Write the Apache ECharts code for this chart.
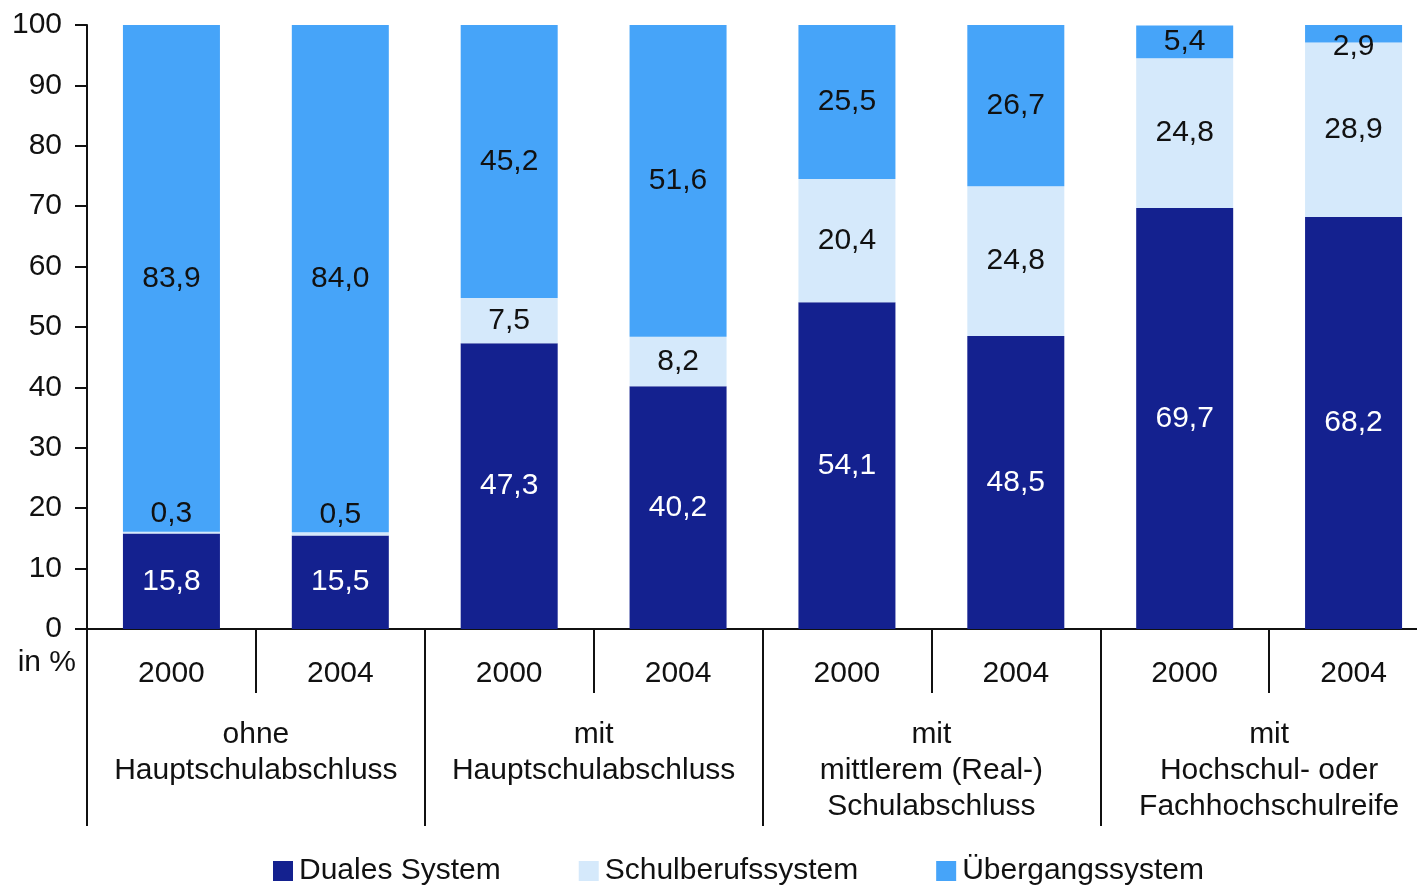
<!DOCTYPE html>
<html>
<head>
<meta charset="utf-8">
<script src="https://cdn.jsdelivr.net/npm/echarts@6/dist/echarts.min.js"></script>
<style>
  html, body { margin: 0; padding: 0; background: #fff; }
  #chart { width: 1417px; height: 886px; }
</style>
</head>
<body>
<div id="chart"></div>
<script>
const years = ['2000', '2004', '2000', '2004', '2000', '2004', '2000', '2004']
const groups = [
    'ohne\nHauptschulabschluss',
    'mit\nHauptschulabschluss',
    'mit\nmittlerem (Real-)\nSchulabschluss',
    'mit\nHochschul- oder\nFachhochschulreife'
]
const dualesSystem = [15.8, 15.5, 47.3, 40.2, 54.1, 48.5, 69.7, 68.2]
const schulberufssystem = [0.3, 0.5, 7.5, 8.2, 20.4, 24.8, 24.8, 28.9]
const uebergangssystem = [83.9, 84.0, 45.2, 51.6, 25.5, 26.7, 5.4, 2.9]
const yTicks = [0, 100, 10]  // min, max, step

const font = '"Liberation Sans", Arial, Helvetica, sans-serif'
const fmt = v => v.toFixed(1).replace('.', ',')

const chart = echarts.init(document.getElementById('chart'))

// kleine Segmente: Beschriftung über dem Balken
const schulData = schulberufssystem.map(v => v < 1
    ? { value: v, label: { position: 'top', distance: 3 } }
    : v)
const uebData = uebergangssystem.map(v => v < 4
    ? { value: v, label: { offset: [0, 13] } }
    : v)

const barLabel = color => ({
    show: true,
    position: 'inside',
    color: color,
    fontFamily: font,
    fontSize: 30,
    formatter: p => fmt(p.value)
})

chart.setOption({
    animation: false,
    textStyle: { fontFamily: font },
    grid: {
        left: 87,
        top: 25,
        bottom: 257,
        width: 1351,
        outerBoundsMode: 'none',
        containLabel: false,
    },
    legend: {
        left: 268,
        top: 851,
        icon: 'rect',
        itemWidth: 20,
        itemHeight: 20,
        itemGap: 78,
        selectedMode: false,
        textStyle: {
            fontFamily: font,
            fontSize: 30,
            color: '#111',
            padding: [0, 0, 0, 1]
        },
        data: ['Duales System', 'Schulberufssystem', 'Übergangssystem']
    },
    graphic: [{
        type: 'text',
        right: 1417 - 76,
        top: 648,
        style: {
            text: 'in %',
            font: '30px ' + font,
            fill: '#111',
            textAlign: 'right'
        }
    }],
    xAxis: [
        {
            type: 'category',
            data: years,
            position: 'bottom',
            axisLine: { show: true, lineStyle: { color: '#111', width: 2 } },
            axisTick: { show: true, length: 64, lineStyle: { color: '#111', width: 2 } },
            axisLabel: {
                margin: 27,
                fontSize: 30,
                lineHeight: 36,
                color: '#111',
                fontFamily: font
            },
        },
        {
            type: 'category',
            data: groups,
            position: 'bottom',
            axisLine: { show: false },
            axisTick: { show: true, length: 197, lineStyle: { color: '#111', width: 2 } },
            axisLabel: {
                margin: 88,
                fontSize: 30,
                lineHeight: 36,
                color: '#111',
                fontFamily: font,
                interval: 0
            },
        }
    ],
    yAxis: {
        type: 'value',
        min: yTicks[0],
        max: yTicks[1],
        interval: yTicks[2],
        axisLine: { show: true, lineStyle: { color: '#111', width: 2 } },
        axisTick: { show: true, length: 12, lineStyle: { color: '#111', width: 2 } },
        splitLine: { show: false },
        axisLabel: {
            margin: 25,
            fontSize: 30,
            color: '#111',
            fontFamily: font
        },
    },
    series: [
        {
            name: 'Duales System',
            type: 'bar',
            stack: 'total',
            barWidth: 97,
            itemStyle: { color: '#14218F' },
            label: barLabel('#fff'),
            data: dualesSystem
        },
        {
            name: 'Schulberufssystem',
            type: 'bar',
            stack: 'total',
            barWidth: 97,
            itemStyle: { color: '#D5E9FB' },
            label: barLabel('#111'),
            data: schulData
        },
        {
            name: 'Übergangssystem',
            type: 'bar',
            stack: 'total',
            barWidth: 97,
            itemStyle: { color: '#46A4F9' },
            label: barLabel('#111'),
            data: uebData
        }
    ]
})
window.addEventListener('resize', chart.resize)
</script>
</body>
</html>
